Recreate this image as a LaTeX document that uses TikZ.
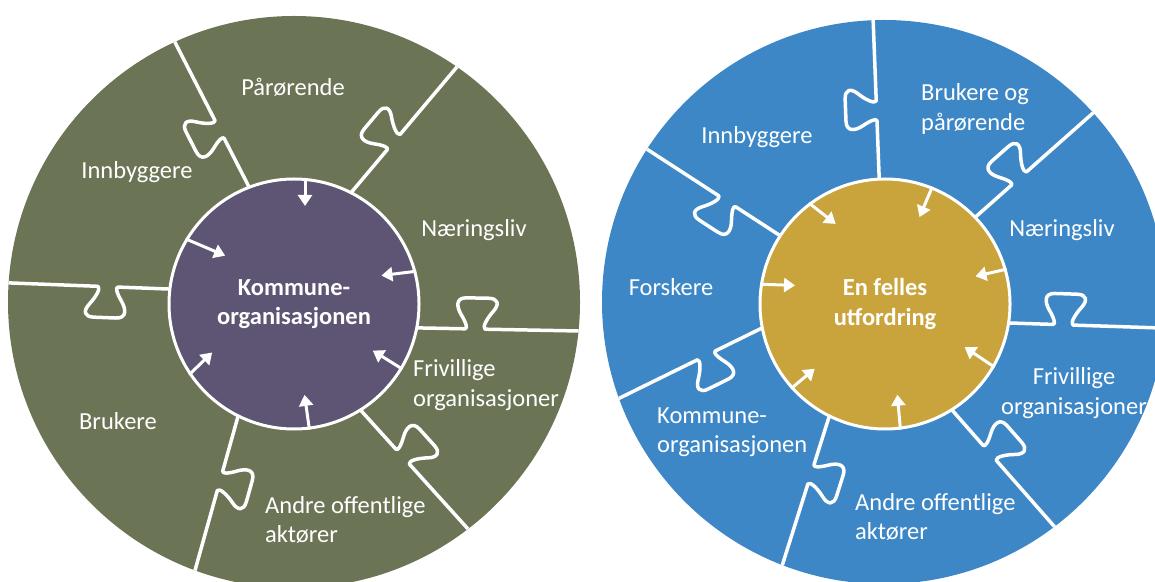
\documentclass[tikz,border=0pt]{standalone}
\usepackage{fontspec}
\setmainfont{Carlito}
\usetikzlibrary{arrows.meta}
\definecolor{olivegreen}{RGB}{107,117,86}
\definecolor{plum}{RGB}{94,85,116}
\definecolor{skyblue}{RGB}{61,135,199}
\definecolor{ochre}{RGB}{201,163,60}
\tikzset{
  outerdisc/.style={circle, inner sep=0pt, outer sep=0pt, draw=none},
  innerdisc/.style={circle, inner sep=0pt, minimum size=250pt, draw=white, line width=3pt,
    text=white, align=center, font=\fontsize{24.5}{29.5}\selectfont\bfseries},
  sepline/.style={draw=white, line width=3.5pt, line join=round, line cap=round},
  arrowline/.style={draw=white, line width=3pt, -{Triangle[width=14pt,length=11pt]}},
  lbl/.style={text=white, inner sep=0pt, font=\fontsize{24.5}{29.5}\selectfont},
}
% #1,#2 start, #3 angle, #4 length, #5 knob position
\newcommand\jigsaw[5]{%
  \draw[sepline, shift={(#1,#2)}, rotate=#3]
    (-10,0) -- (#5,0)
    .. controls ({#5+3},0) and ({#5+1},6) .. ({#5-4},14)
    .. controls ({#5-9},22) and ({#5-10},31) .. ({#5+1},31)
    -- ({#5+23},31)
    .. controls ({#5+33},31) and ({#5+34},25) .. ({#5+28},18)
    .. controls ({#5+22},11) and ({#5+17},2) .. ({#5+20},0)
    -- ({#4+20},0);
}
\begin{document}
\begin{tikzpicture}[x=1pt,y=1pt]
\useasboundingbox (0,0) rectangle (1155,581);
\clip (0,0) rectangle (1155,581);

% ---------- left diagram ----------
\node[outerdisc, fill=olivegreen, minimum size=572pt] (Lout) at (294,279) {};
\begin{scope}
  \clip (Lout.center) circle (286);
  \jigsaw{247}{398}{117.1}{158}{50}
  \jigsaw{355}{393}{49.9}{157}{50}
  \jigsaw{423}{253}{-1.1}{157}{42}
  \jigsaw{365}{166}{-47.9}{152}{46}
  \jigsaw{237}{161}{-105.6}{164}{53}
  \jigsaw{168}{292}{177.8}{159}{50}
\end{scope}
\node[innerdisc, fill=plum] (Lin) at (294,277) {Kommune-\\organisasjonen};
\draw[arrowline] (Lin.85) -- ++(-90:28);
\draw[arrowline] (Lin.149) -- ++(-23:43);
\draw[arrowline] (Lin.15) -- ++(187:35);
\draw[arrowline] (Lin.329) -- ++(148:35);
\draw[arrowline] (Lin.277) -- ++(98:35);
\draw[arrowline] (Lin.214) -- ++(44:32);

\node[lbl] (lpar) at (293,494) {Pårørende};
\node[lbl] (linn) at (137,409) {Innbyggere};
\node[lbl] (lnae) at (474,351) {Næringsliv};
\node[lbl, anchor=west, align=left] (lfri) at (413,196) {Frivillige\\organisasjoner};
\node[lbl] (lbru) at (118,160) {Brukere};
\node[lbl, anchor=west, align=left] (land) at (265,61) {Andre offentlige\\aktører};

% ---------- right diagram ----------
\node[outerdisc, fill=skyblue, minimum size=564pt] (Rout) at (884,279) {};
\begin{scope}
  \clip (Rout.center) circle (282);
  \jigsaw{879}{408}{92.2}{154}{52}
  \jigsaw{980}{368}{41.5}{151}{42}
  \jigsaw{1010}{258}{-1.9}{160}{43}
  \jigsaw{952}{171}{-48.7}{153}{47}
  \jigsaw{829}{164}{-107.5}{153}{50}
  \jigsaw{762}{253}{-153.8}{158}{52}
  \jigsaw{776}{348}{147.0}{153}{48}
\end{scope}
\node[innerdisc, fill=ochre] (Rin) at (885,277) {En felles\\utfordring};
\draw[arrowline] (Rin.127) -- ++(-38:34);
\draw[arrowline] (Rin.68) -- ++(-113:33);
\draw[arrowline] (Rin.16) -- ++(193:32);
\draw[arrowline] (Rin.330) -- ++(146:36);
\draw[arrowline] (Rin.277) -- ++(95:35);
\draw[arrowline] (Rin.222) -- ++(40:31);
\draw[arrowline] (Rin.171) -- ++(-2:35);

\node[lbl] (rinn) at (757,444) {Innbyggere};
\node[lbl, anchor=west, align=left] (rbru) at (921,472) {Brukere og\\pårørende};
\node[lbl] (rnae) at (1062,351) {Næringsliv};
\node[lbl] (rfor) at (671,294) {Forskere};
\node[lbl, align=center] (rfri) at (1074,188) {Frivillige\\organisasjoner};
\node[lbl, anchor=west, align=left] (rkom) at (657,149) {Kommune-\\organisasjonen};
\node[lbl, anchor=west, align=left] (rand) at (855,64) {Andre offentlige\\aktører};
\end{tikzpicture}
\end{document}
